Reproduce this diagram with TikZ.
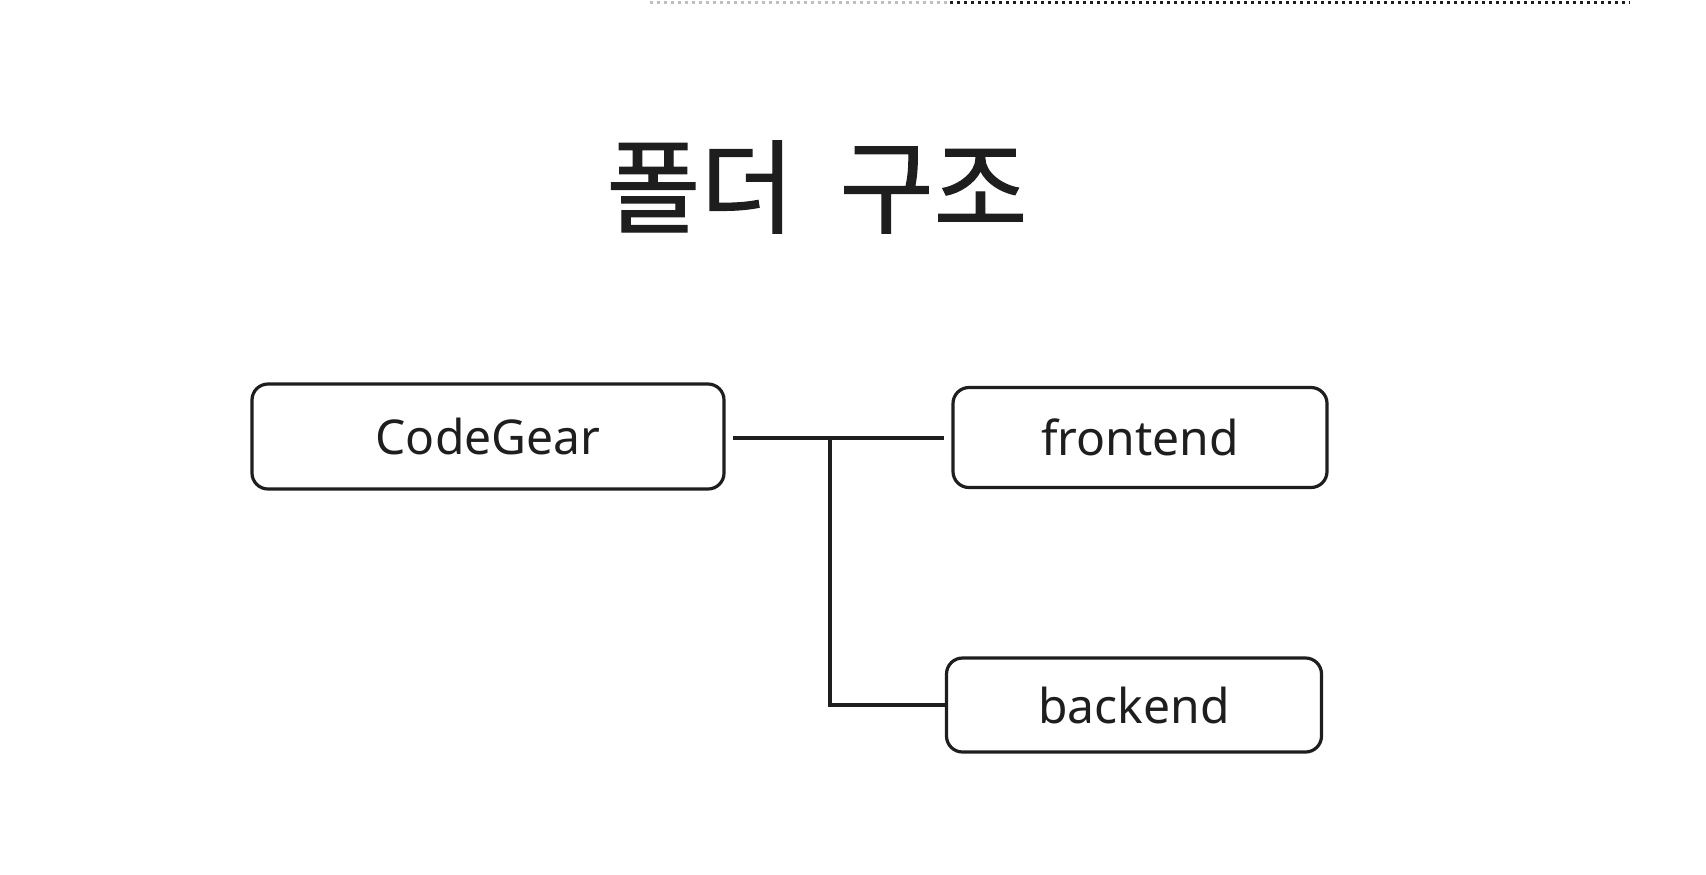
\documentclass[tikz,border=0pt]{standalone}
\usepackage{fontspec}
\setmainfont{Noto Sans}
\newfontfamily\krfont[WordSpace=2, FakeBold=1.2]{Noto Sans CJK KR}
\usetikzlibrary{positioning}
\definecolor{ink}{HTML}{1E1E1E}
\tikzstyle{folder}=[draw=ink, line width=1.6pt, rounded corners=8pt, text=ink, inner sep=0pt, font=\fontsize{24}{28}\selectfont]
\tikzstyle{link}=[draw=ink, line width=1.6pt]
\begin{document}
\begin{tikzpicture}[x=0.5pt, y=-0.5pt]
		   \useasboundingbox (0,0) rectangle (1706,874);
		   % title
		   \node[text=ink, font=\krfont\fontsize{51}{60}\selectfont] (title) at (817, 187) {폴더 구조};
		   % folders
		   \node[folder, minimum width=236pt, minimum height=52.5pt] (cg) at (488, 436.5) {CodeGear};
		   \node[folder, minimum width=187pt, minimum height=50pt] (fe) at (1140, 437.5) {frontend};
		   \node[folder, minimum width=187.5pt, minimum height=47pt] (be) at (1134, 705) {backend};
		   \coordinate (split) at (830, 438);
		   \draw[link, line width=2.2pt, shorten <=3.5pt, shorten >=3.5pt] (cg.east |- split) -- (fe.west |- split);
		   \draw[link] (split) |- (be.west);
		   % cut edge at the top
		   \coordinate (cutA) at (650, 2);
		   \coordinate (cutB) at (950, 2);
		   \coordinate (cutC) at (1630, 2);
		   \draw[gray!50, line width=1.5pt, dotted] (cutA) -- (cutB);
		   \draw[ink, line width=1.5pt, dotted] (cutB) -- (cutC);
	   \end{tikzpicture}
\end{document}
